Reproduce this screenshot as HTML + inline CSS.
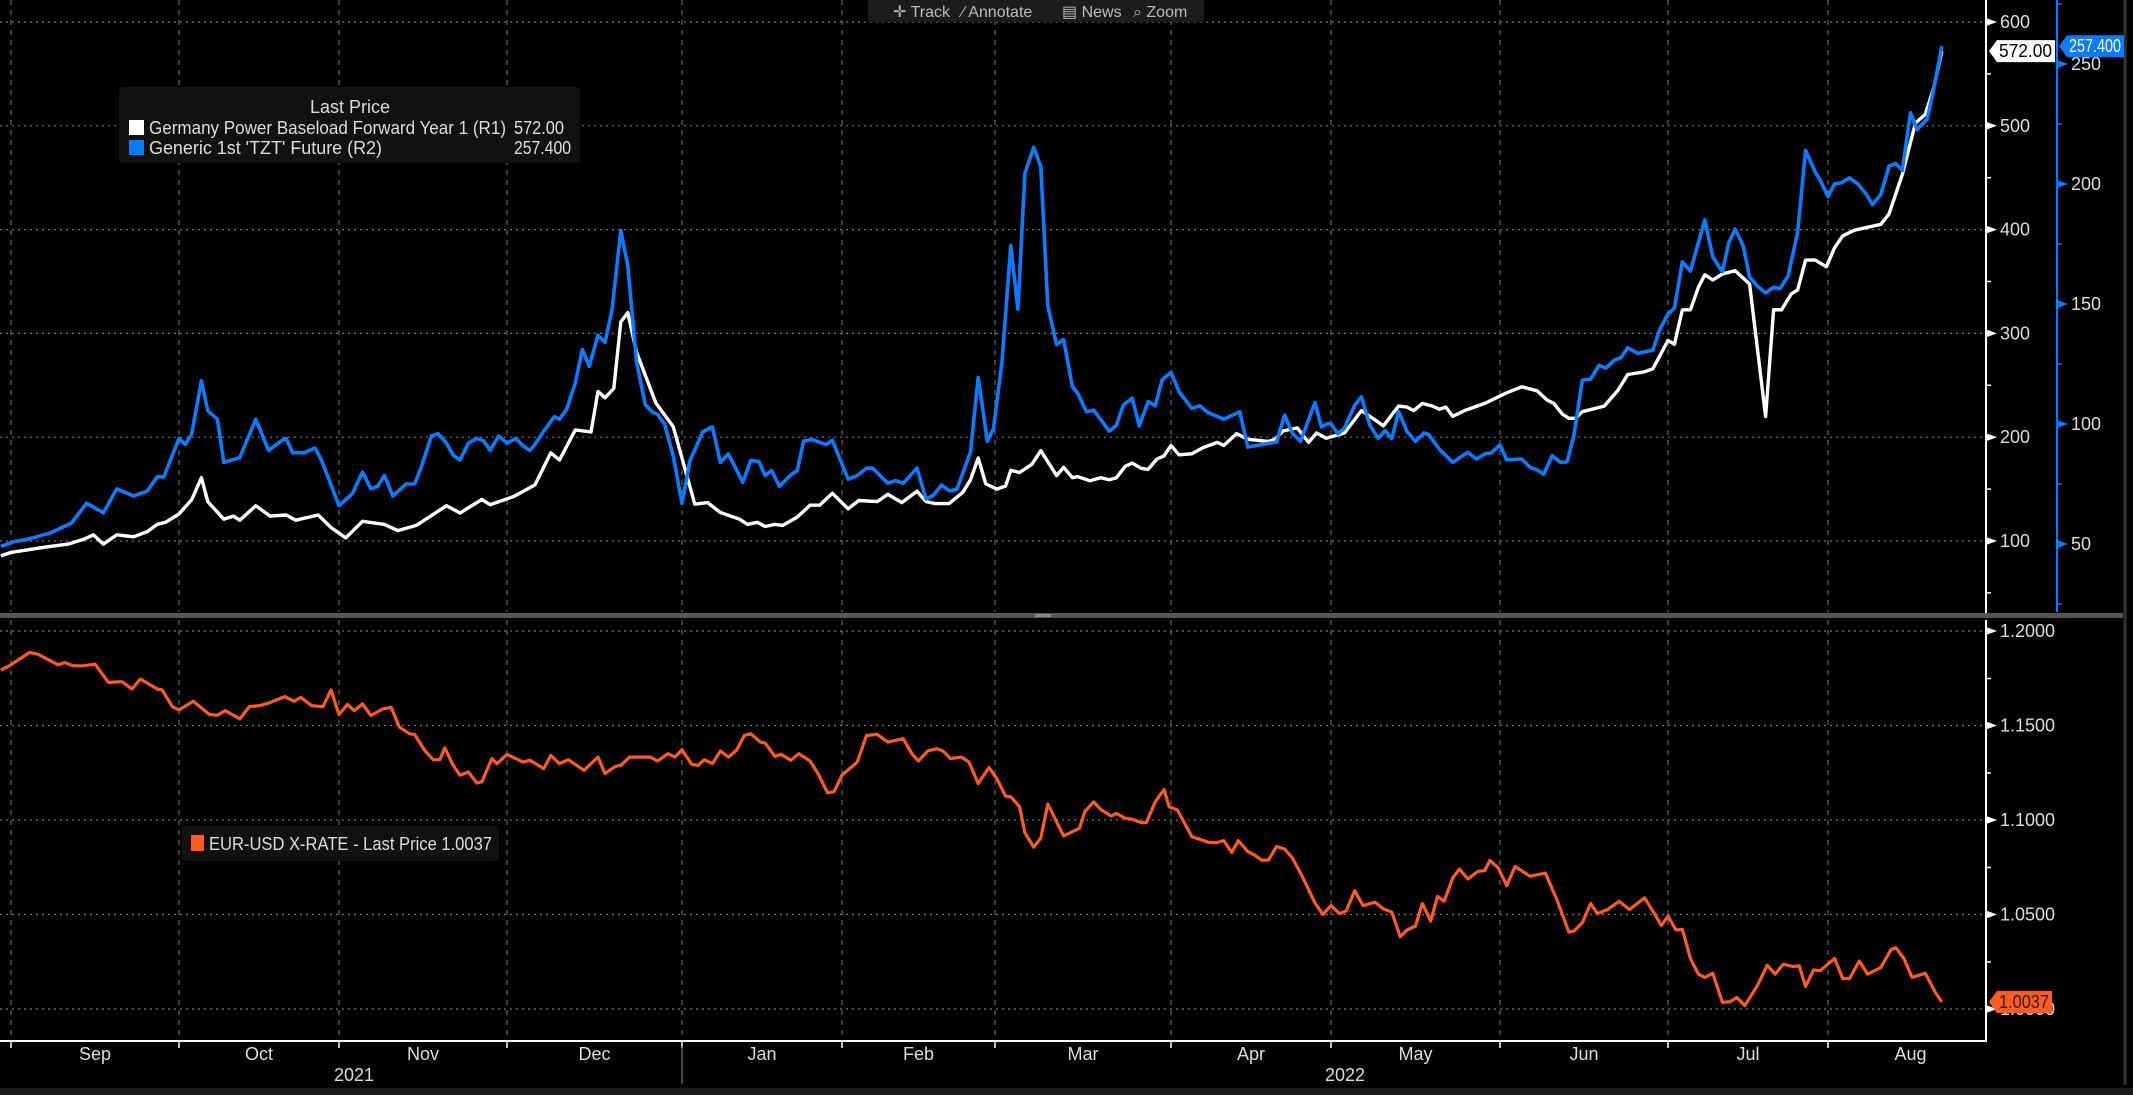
<!DOCTYPE html>
<html><head><meta charset="utf-8"><style>
html,body{margin:0;padding:0;background:#000;width:2133px;height:1095px;overflow:hidden}
svg{display:block}
text{font-family:"Liberation Sans Narrow","Liberation Sans",sans-serif}
</style></head><body>
<svg id="chart" width="2133" height="1095" viewBox="0 0 2133 1095" xmlns="http://www.w3.org/2000/svg">
<rect x="0" y="0" width="2133" height="1095" fill="#000"/>
<g id="grid"></g>
<g id="series"></g>
<g id="axes"></g>
<!-- toolbar -->
<g>
<rect x="868" y="0" width="336" height="22" fill="#1c1c1c"/>
<text x="893" y="17" fill="#bbb" font-size="16">✛ Track</text>
<text x="962" y="17" fill="#bbb" font-size="16">⁄ Annotate</text>
<text x="1062" y="17" fill="#bbb" font-size="16">▤ News</text>
<text x="1133" y="17" fill="#bbb" font-size="16">⌕ Zoom</text>
</g>
<!-- top legend -->
<g>
<rect x="119" y="87" width="461" height="76" rx="4" fill="#111"/>
<text x="350" y="113" fill="#ddd" font-size="18" text-anchor="middle" font-family="Liberation Sans, sans-serif">Last Price</text>
<rect x="129" y="120" width="15" height="15" fill="#fff"/>
<text x="149" y="134" fill="#ddd" font-size="18" textLength="357" lengthAdjust="spacingAndGlyphs" font-family="Liberation Sans, sans-serif">Germany Power Baseload Forward Year 1  (R1)</text>
<text x="514" y="134" fill="#ddd" font-size="18" textLength="50" lengthAdjust="spacingAndGlyphs" font-family="Liberation Sans, sans-serif">572.00</text>
<rect x="129" y="140" width="15" height="15" fill="#0a7cff"/>
<text x="149" y="154" fill="#ddd" font-size="18" textLength="233" lengthAdjust="spacingAndGlyphs" font-family="Liberation Sans, sans-serif">Generic 1st 'TZT' Future  (R2)</text>
<text x="514" y="154" fill="#ddd" font-size="18" textLength="57" lengthAdjust="spacingAndGlyphs" font-family="Liberation Sans, sans-serif">257.400</text>
</g>
<!-- bottom legend -->
<g>
<rect x="182" y="826" width="317" height="35" rx="4" fill="#111"/>
<rect x="191" y="835" width="13" height="16" fill="#ff5a1f"/>
<text x="209" y="850" fill="#ddd" font-size="18" textLength="283" lengthAdjust="spacingAndGlyphs">EUR-USD X-RATE - Last Price 1.0037</text>
</g>
</svg>
<script>
// ---- data (time in months since 1 Sep 2021) ----
const tPower=[-0.06,0,0.2,0.34,0.44,0.49,0.55,0.63,0.73,0.81,0.87,0.92,1,1.08,1.14,1.18,1.28,1.34,1.38,1.48,1.57,1.67,1.73,1.87,1.95,2.04,2.14,2.27,2.35,2.46,2.64,2.72,2.85,2.9,3.04,3.16,3.25,3.3,3.39,3.48,3.52,3.56,3.61,3.65,3.69,3.74,3.85,3.95,4.08,4.16,4.24,4.36,4.41,4.47,4.52,4.58,4.63,4.72,4.8,4.86,4.94,5.04,5.11,5.23,5.3,5.39,5.49,5.55,5.61,5.7,5.79,5.84,5.89,5.94,6.01,6.06,6.09,6.14,6.21,6.26,6.35,6.39,6.44,6.47,6.54,6.6,6.65,6.69,6.74,6.78,6.83,6.87,6.92,6.96,7,7.05,7.13,7.2,7.29,7.33,7.41,7.48,7.61,7.65,7.7,7.79,7.86,7.91,7.97,8.08,8.18,8.23,8.31,8.4,8.45,8.49,8.54,8.6,8.64,8.68,8.72,8.79,8.91,9.04,9.13,9.22,9.28,9.32,9.37,9.41,9.45,9.49,9.62,9.7,9.76,9.86,9.91,10,10.04,10.09,10.14,10.19,10.23,10.28,10.34,10.42,10.51,10.61,10.66,10.71,10.77,10.81,10.86,10.92,10.99,11.04,11.09,11.16,11.32,11.37,11.45,11.53,11.59,11.64,11.69];
const power=[85.6,89,94,97,102,106,97,106,104,109,116,118,126,140,161,138,121,124,120,134,124,125,120,125,113,103,119,116,110,115,134,127,140,135,143,154,185,178,207,205,244,238,247,311,320,282,233,210,135.5,137,127.5,121,116,118,114,116,115,123,134.5,134.5,146,131,139,138,145,137,148,138,136,136,147,159,180,155,150,153,168,166,174,187,163,171,161,162,158,161,159,161,172,175,170,169,179,182,192,183,184,190,195,192,203.5,198,196,198,206,209,195,204,199,204,225.6,220,211,230,229,225.6,232.6,230,227,229,220,225.6,232.6,242.8,248.6,244.7,235.8,232.6,222.4,218.2,218.2,224.6,230,244.7,260.4,263,266,293.3,289.5,322.7,322.7,344.4,356.5,351.5,357.2,360.4,347.6,219.8,322.7,322.7,338,341.9,370.6,370.6,364.2,382.7,394,399.4,405,415,453,502.6,511,536,572];
const tTzt=[-0.06,0.02,0.1,0.23,0.36,0.45,0.55,0.63,0.73,0.81,0.87,0.91,1,1.04,1.08,1.14,1.18,1.24,1.28,1.38,1.48,1.56,1.64,1.67,1.71,1.78,1.85,1.89,2,2.08,2.14,2.19,2.23,2.27,2.32,2.4,2.45,2.49,2.55,2.59,2.64,2.68,2.72,2.77,2.82,2.86,2.9,2.95,3,3.05,3.09,3.13,3.16,3.2,3.27,3.3,3.34,3.39,3.43,3.47,3.52,3.56,3.6,3.65,3.69,3.74,3.79,3.83,3.86,3.9,3.95,4,4.05,4.13,4.19,4.24,4.29,4.38,4.43,4.48,4.52,4.56,4.61,4.68,4.72,4.76,4.81,4.9,4.94,5.04,5.1,5.16,5.2,5.3,5.35,5.4,5.49,5.55,5.6,5.65,5.7,5.75,5.84,5.89,5.95,5.99,6.04,6.09,6.13,6.17,6.22,6.26,6.3,6.35,6.39,6.44,6.47,6.52,6.56,6.65,6.69,6.73,6.78,6.82,6.87,6.91,6.95,7,7.05,7.13,7.18,7.23,7.33,7.43,7.48,7.66,7.71,7.76,7.81,7.9,7.94,7.98,8,8.04,8.08,8.14,8.18,8.23,8.28,8.32,8.36,8.4,8.45,8.5,8.55,8.58,8.64,8.72,8.81,8.86,8.91,8.95,9,9.04,9.13,9.18,9.22,9.26,9.31,9.36,9.4,9.44,9.49,9.54,9.59,9.63,9.68,9.72,9.76,9.82,9.91,9.95,10,10.04,10.09,10.14,10.23,10.28,10.34,10.38,10.42,10.47,10.51,10.56,10.61,10.66,10.7,10.75,10.81,10.86,10.92,10.95,11,11.04,11.08,11.13,11.18,11.23,11.27,11.32,11.37,11.41,11.45,11.5,11.54,11.6,11.64,11.69];
const tzt=[49,51,52,54.5,58.7,67,63,73,70,72,78,78,94,91.5,96,118,105.5,102,84,86,102,89,93,94,88,88,90,85,66,71,80,73,74,78.5,70,75,75,82,95,96,92,87,85,92,94,93,89,95,92,94,91,89,91.5,96,103,102,106,117,131,124,137,134,147.5,180.6,166,126,108,105,104,100,86.6,67,84.8,96.7,98.8,84,87.6,75.7,84.8,84.4,78.5,80.6,74,78.8,80.6,92.8,93.6,91.4,93.2,77,78.5,81.6,81.6,75.3,76.4,75.3,81.6,68.7,70.4,74.6,72.2,72.7,88.3,119.4,92.8,98.1,126,174.3,147.8,204.4,215.3,207.2,149.2,133.1,135.2,115.6,112.8,105.1,105.8,97,99.5,108,110.7,99.2,109.3,107.6,118.4,121.5,113.5,106.5,107.6,104.8,102,105.1,90.4,92.5,103.7,96,92.8,109,98.8,100.2,100.1,95.9,98.3,107.8,111.3,99.4,94.1,97.3,93.8,105.2,96.9,92.7,96.3,95.5,89.6,84,88.2,85.4,87.5,88,91.3,85.1,85.4,81.9,80.9,79.1,86.8,84,84.3,95.2,118.3,118.7,124.5,123.2,126.6,127.6,131.8,129.4,130.8,139.2,145.8,148.3,167.6,163.7,185,169.6,163.4,175.6,181.2,174.2,161.2,157.4,154.6,157,156.4,161.6,179.8,214,205,201.8,194.8,200.1,200.4,202.6,200.1,195.9,191.4,195.6,207.4,208.5,205.7,229.7,222.7,226.9,239.2,257.4];
const tEur=[-0.06,-0.01,0.11,0.16,0.28,0.32,0.37,0.43,0.5,0.58,0.66,0.72,0.77,0.87,0.9,0.96,1,1.09,1.19,1.24,1.29,1.38,1.44,1.5,1.56,1.66,1.72,1.76,1.83,1.9,1.95,2,2.05,2.09,2.14,2.19,2.26,2.31,2.36,2.42,2.45,2.51,2.56,2.6,2.63,2.68,2.72,2.77,2.82,2.85,2.91,2.94,3,3.09,3.13,3.21,3.25,3.3,3.35,3.44,3.52,3.56,3.62,3.65,3.7,3.82,3.86,3.92,3.96,4,4.06,4.1,4.14,4.19,4.24,4.29,4.34,4.39,4.43,4.49,4.52,4.58,4.62,4.68,4.73,4.8,4.85,4.91,4.95,5,5.1,5.16,5.23,5.3,5.4,5.46,5.5,5.56,5.62,5.66,5.71,5.78,5.83,5.89,5.96,6.01,6.06,6.09,6.14,6.17,6.22,6.26,6.3,6.35,6.39,6.48,6.51,6.56,6.6,6.66,6.69,6.74,6.78,6.83,6.86,6.91,6.96,6.99,7.04,7.13,7.18,7.24,7.29,7.33,7.38,7.42,7.48,7.52,7.57,7.61,7.66,7.71,7.76,7.82,7.9,7.95,8,8.05,8.09,8.14,8.19,8.26,8.31,8.36,8.41,8.45,8.5,8.54,8.59,8.63,8.67,8.72,8.76,8.81,8.87,8.91,8.94,8.99,9.04,9.09,9.18,9.27,9.34,9.41,9.44,9.49,9.54,9.58,9.64,9.71,9.77,9.86,9.91,9.96,10,10.05,10.09,10.14,10.19,10.23,10.28,10.34,10.39,10.43,10.48,10.56,10.62,10.67,10.72,10.78,10.82,10.86,10.91,10.95,11.04,11.09,11.13,11.19,11.24,11.32,11.38,11.41,11.46,11.51,11.59,11.65,11.69];
const eur=[1.1793,1.1816,1.1886,1.1877,1.1821,1.1833,1.1816,1.1816,1.1825,1.1728,1.1732,1.1693,1.1746,1.1693,1.1688,1.16,1.1582,1.1628,1.1558,1.1554,1.1579,1.1535,1.16,1.1605,1.1618,1.1653,1.1628,1.1649,1.1605,1.16,1.1688,1.1558,1.1611,1.1579,1.1614,1.1553,1.1588,1.1596,1.1491,1.1456,1.1453,1.1368,1.1319,1.1319,1.1381,1.1289,1.1237,1.1254,1.1196,1.1202,1.1325,1.1298,1.1347,1.1307,1.1316,1.1272,1.1342,1.1298,1.1319,1.1263,1.1333,1.1246,1.1284,1.1289,1.1333,1.1333,1.1312,1.1351,1.1333,1.1372,1.1295,1.1289,1.1319,1.1298,1.1365,1.1333,1.1368,1.1447,1.1456,1.1412,1.1407,1.1337,1.1347,1.1316,1.1351,1.1312,1.1246,1.1144,1.1149,1.1237,1.1307,1.1447,1.1453,1.1412,1.143,1.1347,1.1312,1.1365,1.1377,1.1365,1.1325,1.1333,1.1307,1.1193,1.1277,1.1219,1.1126,1.1123,1.107,1.0933,1.0856,1.0904,1.1084,1.0991,1.0916,1.0956,1.1044,1.1096,1.1056,1.1021,1.1035,1.1009,1.1004,1.0986,1.0986,1.1096,1.1161,1.107,1.1053,1.0912,1.0898,1.0881,1.0881,1.0891,1.0828,1.0891,1.0833,1.0816,1.0786,1.0789,1.086,1.0846,1.0798,1.0702,1.0561,1.05,1.0547,1.0505,1.0518,1.0626,1.0547,1.0565,1.053,1.0512,1.0382,1.0418,1.0439,1.0558,1.0465,1.0596,1.057,1.0693,1.074,1.0688,1.0728,1.0733,1.0786,1.0746,1.0653,1.0754,1.0702,1.0719,1.0575,1.0407,1.0412,1.0456,1.0558,1.0505,1.0526,1.057,1.0526,1.0588,1.0518,1.0442,1.0491,1.0418,1.0421,1.0267,1.0184,1.0167,1.0189,1.0035,1.0039,1.0061,1.0018,1.0126,1.0232,1.0184,1.0237,1.0225,1.0228,1.0119,1.0207,1.0202,1.0267,1.0161,1.0161,1.0254,1.0184,1.0219,1.0312,1.0325,1.0267,1.0167,1.0189,1.0088,1.0037];
const monthLabels=["Sep","Oct","Nov","Dec","Jan","Feb","Mar","Apr","May","Jun","Jul","Aug"];
const r1Ticks=[100,200,300,400,500,600];
const r2Ticks=[50,100,150,200,250];
const eurTicks=[1.0,1.05,1.10,1.15,1.20];
const yearLabels=["2021","2022"];

// ---- axes / scales (layout) ----
const NS="http://www.w3.org/2000/svg";
const monthEdges=[11,179,339,507,682,842,995,1171,1331,1500,1668,1828];
function xOf(t){
  if(t<0) return monthEdges[0]+t*168;
  const i=Math.floor(t);
  if(i>=monthEdges.length-1) return monthEdges[monthEdges.length-1]+(t-(monthEdges.length-1))*165;
  return monthEdges[i]+(t-i)*(monthEdges[i+1]-monthEdges[i]);
}
const yR1=v=>541-(v-100)*1.038;
const yR2=v=>544-(v-50)*2.4;
const yEur=v=>1009-(v-1)*1890;
const PR=1986, TOP_B=612, BOT_T=620, BOT_B=1041;
function mk(tag,attrs,parent){const e=document.createElementNS(NS,tag);for(const k in attrs)e.setAttribute(k,attrs[k]);parent.appendChild(e);return e;}
const grid=document.getElementById('grid'), series=document.getElementById('series'), axes=document.getElementById('axes');

// gridlines
r1Ticks.forEach(v=>{const l=mk('line',{x1:0,x2:PR,y1:yR1(v),y2:yR1(v),stroke:'#777','stroke-width':1.2,'stroke-dasharray':'2,4'},grid);

});
eurTicks.forEach(v=>{const l=mk('line',{x1:0,x2:PR,y1:yEur(v),y2:yEur(v),stroke:'#777','stroke-width':1.2,'stroke-dasharray':'2,4'},grid);

});
monthEdges.forEach(x=>{
  [[0,TOP_B],[BOT_T,BOT_B]].forEach(r=>{const l=mk('line',{x1:x,x2:x,y1:r[0],y2:r[1],stroke:'#666','stroke-width':1.2,'stroke-dasharray':'5,5'},grid);
  
  });
});

// series
function line(ts,vs,yf,color,w,name){
  const d=ts.map((t,i)=>(i?'L':'M')+xOf(t).toFixed(1)+','+yf(vs[i]).toFixed(1)).join('');
  const p=mk('path',{d:d,fill:'none',stroke:color,'stroke-width':w,'stroke-linejoin':'round'},series);
  
  
}
line(tEur,eur,yEur,'#ff5a1f',3.2,'eurusd-line');
line(tPower,power,yR1,'#ffffff',3.4,'germany-power-line');
line(tTzt,tzt,yR2,'#0a7cff',3.6,'tzt-future-line');

// panel separator
const sep=mk('rect',{x:0,y:613,width:2123,height:5,fill:'#555'},axes);


mk('rect',{x:1035,y:614,width:16,height:3,fill:'#888'},axes);

// right axes
const a1=mk('line',{x1:PR,x2:PR,y1:0,y2:613,stroke:'#fff','stroke-width':2},axes);


const a2=mk('line',{x1:2057,x2:2057,y1:0,y2:612,stroke:'#0a7cff','stroke-width':2},axes);


const a3=mk('line',{x1:PR,x2:PR,y1:BOT_T,y2:BOT_B,stroke:'#fff','stroke-width':2},axes);


const ab=mk('line',{x1:0,x2:PR+1,y1:BOT_B,y2:BOT_B,stroke:'#fff','stroke-width':2},axes);


mk('line',{x1:2125,x2:2125,y1:0,y2:1085,stroke:'#333','stroke-width':3},axes);
mk('rect',{x:0,y:1088,width:2133,height:7,fill:'#1a1a1a'},axes);

function tickLabel(x,y,txt,name,color){
  const t=mk('text',{x:x,y:y+6,fill:color||'#ddd','font-size':18},axes);t.textContent=txt;
  
  
}
r1Ticks.forEach(v=>{const y=yR1(v);mk('polygon',{points:`${PR},${y-4} ${PR+11},${y} ${PR},${y+4}`,fill:'#fff'},axes);tickLabel(PR+14,y,String(v),'r1-tick-label');
  mk('line',{x1:PR,x2:PR+5,y1:y+51.9,y2:y+51.9,stroke:'#fff','stroke-width':1.5},axes);});
r2Ticks.forEach(v=>{const y=yR2(v);mk('polygon',{points:`2057,${y-4} 2068,${y} 2057,${y+4}`,fill:'#0a7cff'},axes);tickLabel(2071,y,String(v),'r2-tick-label');
  mk('line',{x1:2057,x2:2062,y1:y+60,y2:y+60,stroke:'#0a7cff','stroke-width':1.5},axes);});
mk('line',{x1:2057,x2:2062,y1:yR2(275),y2:yR2(275),stroke:'#0a7cff','stroke-width':1.5},axes);
eurTicks.forEach(v=>{const y=yEur(v);mk('polygon',{points:`${PR},${y-4} ${PR+11},${y} ${PR},${y+4}`,fill:'#fff'},axes);tickLabel(PR+14,y,v.toFixed(4),'eur-tick-label');
  if(v<1.2) mk('line',{x1:PR,x2:PR+5,y1:y-47,y2:y-47,stroke:'#fff','stroke-width':1.5},axes);});

// last-value tags
function tag(x,y,w,txt,bg,fg,name){
  const g=mk('g',{},axes);
  
  
  mk('polygon',{points:`${x},${y} ${x+8},${y-11} ${x+w},${y-11} ${x+w},${y+11} ${x+8},${y+11}`,fill:bg},g);
  const t=mk('text',{x:x+10,y:y+6,fill:fg,'font-size':18,textLength:w-13,lengthAdjust:'spacingAndGlyphs'},g);t.textContent=txt;
}
tag(1989,yR1(power[power.length-1]),66,power[power.length-1].toFixed(2),'#fff','#000','r1-last-value');
tag(2059,yR2(tzt[tzt.length-1]),65,tzt[tzt.length-1].toFixed(3),'#0a7cff','#fff','r2-last-value');
tag(1989,yEur(eur[eur.length-1]),63,eur[eur.length-1].toFixed(4),'#ff5a1f','#222','eur-last-value');

// month labels
monthLabels.forEach((m,i)=>{
  mk('line',{x1:monthEdges[i],x2:monthEdges[i],y1:BOT_B,y2:BOT_B+7,stroke:'#fff','stroke-width':1.5},axes);
  const x0=monthEdges[i], x1=i+1<monthEdges.length?monthEdges[i+1]:monthEdges[i]+165;
  const cx=Math.min((x0+x1)/2, 1915);
  const t=mk('text',{x:cx,y:1060,fill:'#ddd','font-size':18,'text-anchor':'middle'},axes);t.textContent=m;
  
  
});
const yd=mk('line',{x1:682,x2:682,y1:1046,y2:1084,stroke:'#888','stroke-width':1},axes);


[[354,yearLabels[0]],[1345,yearLabels[1]]].forEach(p=>{
  const t=mk('text',{x:p[0],y:1081,fill:'#ddd','font-size':18,'text-anchor':'middle'},axes);t.textContent=p[1];
  
  
});
</script>
</body></html>
